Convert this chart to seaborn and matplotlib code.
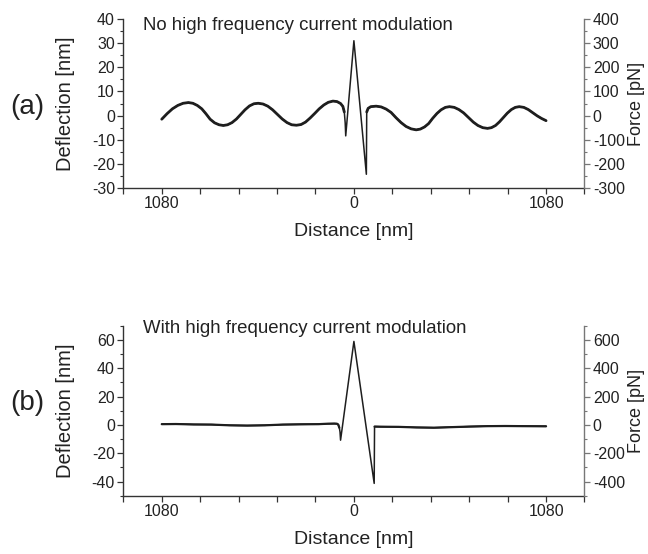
import numpy as np
import pandas as pd
import matplotlib
matplotlib.use("Agg")
import matplotlib.pyplot as plt
import seaborn as sns
from matplotlib import font_manager
from matplotlib.ticker import MultipleLocator, FixedLocator, FixedFormatter

# ---------------- data ----------------
# panel (a): no high frequency current modulation
dist_a = [-1080, -1050, -1020, -990, -960, -930, -905, -880, -855, -832, -808, -783,
          -758, -734, -710, -685, -660, -636, -612, -587, -562, -538, -511, -484,
          -457, -430, -403, -376, -350, -323, -297, -272, -246, -220, -195, -169,
          -144, -118, -95, -75, -62, -54, -49, -46, 0, 70, 72, 80, 95, 125,
          153, 181, 209, 237, 265, 293, 322, 350, 373, 397, 420, 443, 467, 490,
          514, 537, 564, 590, 617, 644, 671, 697, 724, 751, 773, 796, 818, 840,
          862, 885, 907, 929, 955, 980, 1005, 1030, 1055, 1080]
defl_a = [-1.5, 0.8, 2.8, 4.2, 5.1, 5.4, 5.1, 4.2, 2.8, 0.8, -1.5, -3.0,
          -3.8, -4.1, -3.8, -2.9, -1.4, 0.5, 2.4, 4.0, 4.9, 5.1, 4.8, 3.9,
          2.4, 0.5, -1.4, -2.9, -3.8, -4.0, -3.7, -2.7, -1.0, 0.9, 2.8, 4.4,
          5.5, 6.0, 5.8, 5.0, 3.8, 1.5, -3.0, -8.4, 31.0, -24.3, 1.5, 3.0, 3.7, 3.9,
          3.6, 2.7, 1.3, -0.9, -2.9, -4.5, -5.5, -5.9, -5.6, -4.7, -3.3, -1.1, 0.9, 2.4,
          3.4, 3.7, 3.4, 2.5, 1.1, -0.8, -2.7, -4.1, -5.0, -5.3, -5.0, -4.1, -2.6, -0.8,
          1.0, 2.5, 3.4, 3.7, 3.4, 2.5, 1.2, -0.1, -1.2, -2.1]

# panel (b): with high frequency current modulation
dist_b = [-1080, -1000, -900, -800, -700, -600, -500, -400, -300, -200, -150,
          -110, -95, -88, -82, -78, -75, 0, 114, 116, 150, 250, 350, 450, 550,
          650, 750, 850, 950, 1080]
defl_b = [0.5, 0.6, 0.3, 0.2, -0.3, -0.5, -0.3, 0.2, 0.4, 0.5, 0.8,
          0.9, 0.8, 0.2, -2.0, -5.0, -10.8, 58.9, -41.3, -1.2, -1.3, -1.4, -1.8, -2.0, -1.6,
          -1.2, -0.9, -0.8, -0.9, -1.0]

panel_labels = ["(a)", "(b)"]
titles = ["No high frequency current modulation", "With high frequency current modulation"]
xtick_vals = [-1080, 0, 1080]
xtick_text = ["1080", "0", "1080"]
x_label = "Distance [nm]"
y_label = "Deflection [nm]"
y2_label = "Force [pN]"

# ---------------- style ----------------
sns.set_style("ticks")
plt.rcParams["font.family"] = ["Liberation Sans", "DejaVu Sans"]
plt.rcParams["axes.unicode_minus"] = False

names = {f.name for f in font_manager.fontManager.ttflist}
NARROW = "Liberation Sans Narrow" if "Liberation Sans Narrow" in names else None
if NARROW:
    narrow_fp = dict(family=[NARROW, "DejaVu Sans"])
    tick_size, xlab_size = 13, 16
else:
    narrow_fp = dict(family=["Liberation Sans", "DejaVu Sans"])
    tick_size, xlab_size = 11.5, 14

TXT = "#222222"
LINE = "#1e1e1e"

fig = plt.figure(figsize=(6.48, 5.54), dpi=100)
ax_a = fig.add_axes([0.1903, 0.6606, 0.7117, 0.3051])
ax_b = fig.add_axes([0.1903, 0.1052, 0.7117, 0.3069])

configs = [
    (ax_a, dist_a, defl_a, (-30, 40), 10, 5, (-54, 72), 2.0),
    (ax_b, dist_b, defl_b, (-50, 70), 20, 10, (-82, 116), 1.6),
]

for i, (ax, xs, ys, ylim, maj, mnr, cut, lw_flat) in enumerate(configs):
    df = pd.DataFrame({"d": xs, "v": ys})
    sns.lineplot(data=df, x="d", y="v", ax=ax, color=LINE, lw=1.1,
                 sort=False, estimator=None)
    left = df[df.d <= cut[0]]
    right = df[df.d >= cut[1]]
    for part in (left, right):
        sns.lineplot(data=part, x="d", y="v", ax=ax, color=LINE, lw=lw_flat,
                     sort=False, estimator=None)

    ax.set_xlim(-1296, 1296)
    ax.set_ylim(*ylim)
    ax.xaxis.set_major_locator(FixedLocator(list(range(-1296, 1297, 216))))
    ax.xaxis.set_major_formatter(FixedFormatter(
        [xtick_text[xtick_vals.index(t)] if t in xtick_vals else "" for t in range(-1296, 1297, 216)]))
    ax.yaxis.set_major_locator(MultipleLocator(maj))
    ax.yaxis.set_minor_locator(MultipleLocator(mnr))
    ax.tick_params(axis="both", which="major", direction="out", length=4, width=0.9,
                   colors="#333333", labelcolor=TXT, pad=2)
    ax.tick_params(axis="y", which="minor", direction="out", length=2.2, width=0.8,
                   colors="#333333")
    for lab in ax.get_xticklabels() + ax.get_yticklabels():
        lab.set_fontsize(tick_size)
        lab.set_family(narrow_fp["family"])
    for s in ("top", "right"):
        ax.spines[s].set_visible(False)
    for s in ("left", "bottom"):
        ax.spines[s].set_color("#333333")
        ax.spines[s].set_linewidth(1.0)

    ax.set_xlabel(x_label, fontsize=xlab_size, color=TXT, **narrow_fp)
    ax.set_ylabel(y_label, fontsize=14.5, color=TXT)
    ax.xaxis.set_label_coords(0.5, -0.208)
    ax.yaxis.set_label_coords(-0.104, 0.5)

    ax.text(0.042, 0.96 if i == 0 else 0.985, titles[i], transform=ax.transAxes,
            fontsize=13.4, color=TXT, va="center", ha="left")

    ax2 = ax.twinx()
    ax2.set_ylim(ylim[0] * 10, ylim[1] * 10)
    ax2.yaxis.set_major_locator(MultipleLocator(maj * 10))
    ax2.yaxis.set_minor_locator(MultipleLocator(mnr * 10))
    ax2.tick_params(axis="y", which="major", direction="out", length=4, width=0.9,
                    colors="#777777", labelcolor=TXT, pad=2)
    ax2.tick_params(axis="y", which="minor", direction="out", length=2.2, width=0.8,
                    colors="#777777")
    for lab in ax2.get_yticklabels():
        lab.set_fontsize(tick_size)
        lab.set_family(narrow_fp["family"])
    for s in ("top", "left", "bottom"):
        ax2.spines[s].set_visible(False)
    ax2.spines["right"].set_color("#777777")
    ax2.spines["right"].set_linewidth(1.0)
    ax2.set_ylabel(y2_label, fontsize=13, color=TXT)
    ax2.yaxis.set_label_coords(1.094, 0.5)

fig.text(27.5 / 648, 1 - 107 / 554, panel_labels[0], fontsize=20, color=TXT,
         ha="center", va="center")
fig.text(27.5 / 648, 1 - 403 / 554, panel_labels[1], fontsize=20, color=TXT,
         ha="center", va="center")

fig.savefig("out.png", dpi=100, facecolor="white")
